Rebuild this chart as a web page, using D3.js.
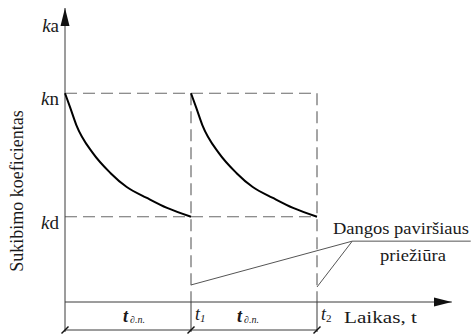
<!DOCTYPE html>
<html>
<head>
<meta charset="utf-8">
<script src="https://cdn.jsdelivr.net/npm/d3@7"></script>
</head>
<body style="margin:0">
<svg id="chart" width="471" height="335" style="font-family: 'Liberation Serif'"></svg>
<script>
// Friction coefficient over time: decay between surface maintenance works

// period boundaries (in maintenance periods)
const periodStarts = [0, 1];
const periodEnds = [1, 2];

// friction coefficient levels (axis units, 0..100)
const levelNames = ["a", "n", "d"];
const levelValues = [96, 71, 29];
const kn = 71;
const kd = 29;

// decay curve within one period: time fraction vs coefficient
const decayT = [0, 0.04, 0.09, 0.22, 0.36, 0.49, 0.65, 0.81, 1.0];
const decayK = [71, 66.3, 60.2, 50.7, 43.9, 39.1, 35.4, 32.0, 29];

// time-axis labels
const timeTickValues = [1, 2];
const timeTickSubs = ["1", "2"];
const periodLabelSub = "∂.n.";

// maintenance note with leader lines
const noteLines = ["Dangos paviršiaus", "priežiūra"];
const leaderFromT = [1, 2];
const leaderFromK = [5.8, 5.1];
const leaderVertex = [2.28, 20.7];
const shelfEndT = 3.22;

const axisTitleY = "Sukibimo koeficientas";
const axisTitleX = "Laikas, t";

const svg = d3.select("#chart");

const x = d3.scaleLinear().domain([0, 2]).range([65, 317]);
const y = d3.scaleLinear().domain([0, 100]).range([302, 8]);

const axisColor = "#3a3a3a";
const dashColor = "#6a6a6a";
const textColor = "#1a1a1a";

// every label is a separate text element in the serif face
function addText(sel) {
  return sel.append("text")
    .style("font-family", `"Liberation Serif"`)
    .attr("fill", textColor);
}

// arrow markers
const defs = svg.append("defs");
defs.append("marker")
  .attr("id", "arrow")
  .attr("viewBox", "0 0 18 10")
  .attr("refX", 18).attr("refY", 5)
  .attr("markerWidth", 18).attr("markerHeight", 10)
  .attr("markerUnits", "userSpaceOnUse")
  .attr("orient", "auto")
  .append("path")
  .attr("d", "M0,0.5 L18,5 L0,9.5 Z")
  .attr("fill", "#111");

// dashed reference frame: kn and kd levels, period boundaries
const g = svg.append("g");
[kn, kd].forEach(v => {
  g.append("line")
    .attr("x1", x(0)).attr("x2", x(2))
    .attr("y1", y(v)).attr("y2", y(v))
    .attr("stroke", dashColor).attr("stroke-width", 1.2)
    .attr("stroke-dasharray", "12,6");
});
periodEnds.forEach(t => {
  g.append("line")
    .attr("x1", x(t)).attr("x2", x(t))
    .attr("y1", y(kn)).attr("y2", y(0))
    .attr("stroke", dashColor).attr("stroke-width", 1.2)
    .attr("stroke-dasharray", "12,6");
});

// axes
svg.append("line")
  .attr("x1", x(0)).attr("x2", x(0))
  .attr("y1", y(0)).attr("y2", y(100))
  .attr("stroke", axisColor).attr("stroke-width", 1)
  .attr("marker-end", "url(#arrow)");
svg.append("line")
  .attr("x1", x(0)).attr("x2", x(3.07))
  .attr("y1", y(0)).attr("y2", y(0))
  .attr("stroke", axisColor).attr("stroke-width", 1)
  .attr("marker-end", "url(#arrow)");

// decay curves
const line = d3.line()
  .x(d => x(d[0])).y(d => y(d[1]))
  .curve(d3.curveMonotoneX);
periodStarts.forEach(s => {
  const pts = decayT.map((t, i) => [s + t, decayK[i]]);
  svg.append("path")
    .attr("d", line(pts))
    .attr("fill", "none")
    .attr("stroke", "#000")
    .attr("stroke-width", 2);
});

// dimension line under the time axis
const dimY = 330;
svg.append("line")
  .attr("x1", x(0)).attr("x2", x(2))
  .attr("y1", dimY).attr("y2", dimY)
  .attr("stroke", axisColor).attr("stroke-width", 1);
[0].concat(periodEnds).forEach(t => {
  svg.append("line")
    .attr("x1", x(t)).attr("x2", x(t))
    .attr("y1", y(0)).attr("y2", dimY + 2)
    .attr("stroke", axisColor).attr("stroke-width", 1);
  svg.append("line")
    .attr("x1", x(t) - 3.5).attr("x2", x(t) + 3.5)
    .attr("y1", dimY + 3.5).attr("y2", dimY - 3.5)
    .attr("stroke", "#111").attr("stroke-width", 1.5);
});

// leader lines to the maintenance note
const leaders = svg.append("g")
  .attr("stroke", "#555").attr("stroke-width", 1).attr("fill", "none");
leaderFromT.forEach((t, i) => {
  leaders.append("line")
    .attr("x1", x(t)).attr("y1", y(leaderFromK[i]))
    .attr("x2", x(leaderVertex[0])).attr("y2", y(leaderVertex[1]));
});
leaders.append("line")
  .attr("x1", x(leaderVertex[0])).attr("y1", y(leaderVertex[1]))
  .attr("x2", x(shelfEndT)).attr("y2", y(leaderVertex[1]));

addText(svg)
  .attr("x", 333).attr("y", y(leaderVertex[1]) - 7)
  .attr("font-size", 17)
  .attr("textLength", 136).attr("lengthAdjust", "spacingAndGlyphs")
  .text(noteLines[0]);
addText(svg)
  .attr("x", 380).attr("y", y(leaderVertex[1]) + 20)
  .attr("font-size", 17)
  .attr("textLength", 66).attr("lengthAdjust", "spacingAndGlyphs")
  .text(noteLines[1]);

// coefficient labels on the vertical axis
levelNames.forEach((n, i) => {
  const t = addText(svg)
    .attr("x", 59)
    .attr("y", y(levelValues[i]) + 12)
    .attr("text-anchor", "end")
    .attr("font-size", 19);
  t.append("tspan").attr("font-style", "italic").text("k");
  t.append("tspan").text(n);
});

// vertical axis title
addText(svg)
  .attr("transform", `translate(23,${(y(0) + y(100)) / 2 + 36}) rotate(-90)`)
  .attr("text-anchor", "middle")
  .attr("font-size", 18)
  .text(axisTitleY);

// period length labels t∂.n.
const periodDx = [-5, -17];
periodStarts.forEach((s, i) => {
  const t = addText(svg)
    .attr("x", x(s + 0.5) + periodDx[i])
    .attr("y", 322)
    .attr("font-size", 18);
  t.append("tspan").attr("font-style", "italic").attr("font-weight", "bold").text("t");
  t.append("tspan").attr("font-style", "italic").attr("font-size", 10)
    .attr("dx", 2).attr("dy", 1).text(periodLabelSub);
});

// t1, t2 marks
timeTickValues.forEach((v, i) => {
  const t = addText(svg)
    .attr("x", x(v) + 4)
    .attr("y", 320)
    .attr("font-size", 18);
  t.append("tspan").attr("font-style", "italic").text("t");
  t.append("tspan").attr("font-size", 11).attr("dy", 2)
    .attr("font-style", i === 0 ? "italic" : "normal")
    .text(timeTickSubs[i]);
});

// horizontal axis title
addText(svg)
  .attr("x", 344).attr("y", 323)
  .attr("font-size", 17)
  .attr("textLength", 73).attr("lengthAdjust", "spacingAndGlyphs")
  .text(axisTitleX);
</script>
</body>
</html>
